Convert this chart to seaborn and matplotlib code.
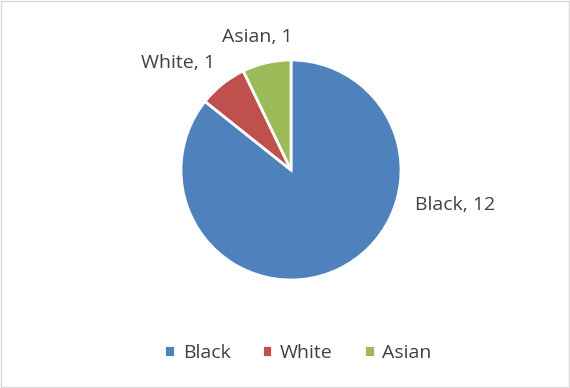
import matplotlib
matplotlib.use("Agg")
import matplotlib.pyplot as plt
from matplotlib.patches import Rectangle
import seaborn as sns

categories = ["Black", "White", "Asian"]
values = [12, 1, 1]
colors_hex = ["#4F81BD", "#C0504D", "#9BBB59"]

sns.set_style("white")
plt.rcParams['font.family'] = ['Open Sans', 'DejaVu Sans']
palette = sns.color_palette(colors_hex)

fig = plt.figure(figsize=(5.7, 3.88), dpi=100)
fig.patch.set_facecolor("white")
fig.patches.append(Rectangle((0.0015, 0.002), 0.997, 0.996, transform=fig.transFigure,
                             fill=False, edgecolor="#D9D9D9", linewidth=1))

ax = fig.add_axes([291/570 - 110/570, (388-170)/388 - 110/388, 220/570, 220/388])
wedges, _ = ax.pie(values, colors=palette, startangle=90, counterclock=False,
                   wedgeprops=dict(edgecolor="white", linewidth=2))
ax.set_xlim(-1, 1)
ax.set_ylim(-1, 1)
ax.set_aspect("equal")

label_pos = [(1.49, -0.32), (-1.03, 0.97), (-0.31, 1.21)]
for cat, v, (x, y) in zip(categories, values, label_pos):
    ax.text(x, y, f"{cat}, {v}", ha="center", va="center", fontsize=14, color="#404040")

leg = fig.legend(wedges, categories, loc="center", bbox_to_anchor=(298/570, 1 - 353/388),
                 ncol=3, frameon=False, fontsize=14, handlelength=0.55, handleheight=0.55,
                 handletextpad=0.4, columnspacing=1.6, labelcolor="#404040")

fig.savefig("out.png", dpi=100)
